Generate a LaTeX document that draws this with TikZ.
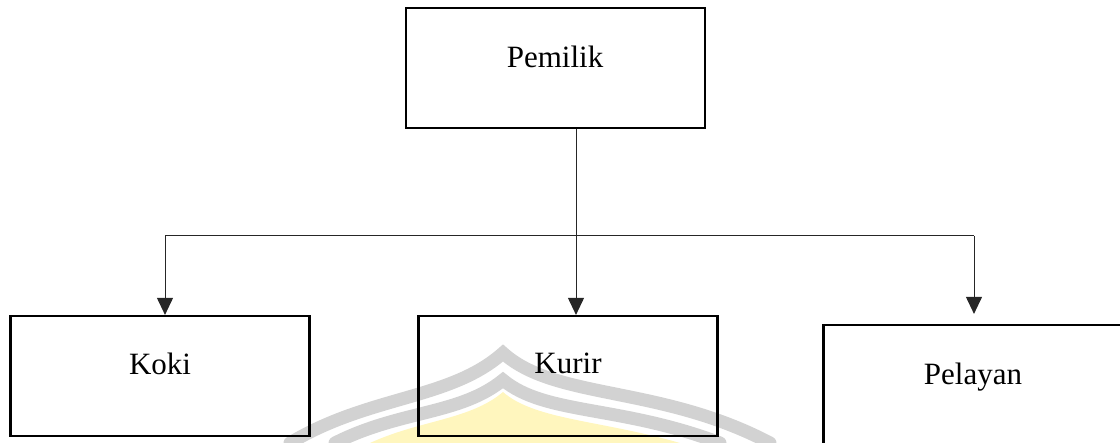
\documentclass[tikz,border=0pt]{standalone}
\usepackage{fontspec}
\setmainfont{Liberation Serif}
\usetikzlibrary{arrows.meta}
\definecolor{wmgray}{RGB}{210,210,210}
\definecolor{wmyellow}{RGB}{255,246,190}
\tikzset{
  box/.style={draw=black, line width=2.2pt, minimum width=299pt, minimum height=120pt, inner sep=0pt},
  lbl/.style={anchor=base, inner sep=0pt, font=\fontsize{31}{37}\selectfont},
  conn/.style={draw=black!85, line width=1pt},
  arr/.style={conn, -{Triangle[length=17pt,width=16pt]}},
  wmband/.style={draw=wmgray, line width=13pt, line cap=round}
}
\begin{document}
\begin{tikzpicture}[x=1pt,y=-1pt]
\useasboundingbox (0,0) rectangle (1120,443);
% faint watermark
\fill[wmyellow] (370,443) .. controls (420,420) and (470,420) .. (503,392) .. controls (535,420) and (600,420) .. (680,443) -- cycle;
\draw[wmband] (335,443) .. controls (400,410) and (460,415) .. (503,380) .. controls (545,415) and (620,405) .. (720,443);
\draw[wmband] (290,443) .. controls (370,395) and (450,400) .. (503,353) .. controls (555,400) and (660,385) .. (770,443);
% boxes
\node[box] (pem) at (555.5,68) {};
\node[box] (koki) at (160,376) {};
\node[box] (kurir) at (568,376) {};
\node[box] (pel) at (973,385) {};
% labels
\node[lbl] (tpem) at (555,68) {Pemilik};
\node[lbl] (tkoki) at (160,375) {Koki};
\node[lbl] (tkurir) at (568,374) {Kurir};
\node[lbl] (tpel) at (973,385) {Pelayan};
% connectors
\coordinate (jL) at (165,236);
\coordinate (jM) at (576,236);
\coordinate (jR) at (974,236);
\draw[conn] (pem.south -| jM) -- (jM);
\draw[conn] (jL) -- (jR);
\draw[arr] (jL) -- (jL |- koki.north);
\draw[arr] (jM) -- (jM |- kurir.north);
\draw[arr] (jR) -- ([yshift=10pt]jR |- pel.north);
\end{tikzpicture}
\end{document}
